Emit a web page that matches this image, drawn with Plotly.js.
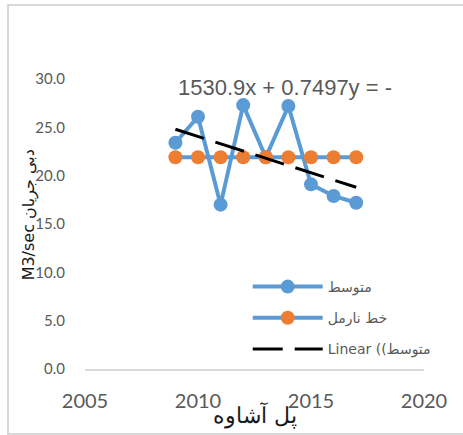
<!DOCTYPE html>
<html>
<head>
<meta charset="utf-8">
<script src="https://cdn.plot.ly/plotly-3.0.1.min.js"></script>
<style>
  html, body { margin: 0; padding: 0; overflow: hidden; background: #ffffff; }
  #frame { position: absolute; left: 7px; top: 4px; width: 470px; height: 427px; border: 2px solid #d9d9d9; pointer-events: none; }
  #chart { position: absolute; left: 0; top: 0; width: 463px; height: 435px; }
</style>
</head>
<body>
<div id="frame"></div>
<div id="chart"></div>
<script>
// ---- data ----
const years = [2009, 2010, 2011, 2012, 2013, 2014, 2015, 2016, 2017];
const meanFlow = [23.4, 26.1, 17.0, 27.3, 21.9, 27.2, 19.1, 17.9, 17.2];
const normalLine = [21.9, 21.9, 21.9, 21.9, 21.9, 21.9, 21.9, 21.9, 21.9];
const trendYears = [2009, 2017];
const trendValues = [24.8, 18.8];
const seriesNames = ['متوسط', 'خط نارمل', 'Linear ((متوسط'];
const equationText = '1530.9x + 0.7497y = -';
const xTitle = 'پل آشاوه';
const yTitle = 'M3/sec دبی جریان';
const xTicks = [2005, 2010, 2015, 2020];
const yTicks = [0, 5, 10, 15, 20, 25, 30];

const blue = '#5B9BD5', orange = '#ED7D31';
const gray = '#595959';

const traces = [
  { x: years, y: meanFlow, name: seriesNames[0], type: 'scatter', mode: 'lines+markers',
    line: { color: blue, width: 4 }, marker: { color: blue, size: 14 }, legendgroup: 'a' },
  { x: years, y: normalLine, name: seriesNames[1], type: 'scatter', mode: 'lines+markers',
    line: { color: blue, width: 4 }, marker: { color: orange, size: 14 }, legendgroup: 'b' },
  { x: trendYears, y: trendValues, name: seriesNames[2], type: 'scatter', mode: 'lines',
    line: { color: '#000000', width: 3, dash: '30px,12px' }, legendgroup: 'c' }
];

const layout = {
  width: 463, height: 435,
  margin: { l: 85, r: 39, t: 79, b: 66 },
  paper_bgcolor: 'rgba(0,0,0,0)', plot_bgcolor: 'rgba(0,0,0,0)',
  font: { family: 'Lato, "DejaVu Sans", sans-serif', color: gray },
  title: { text: equationText, font: { size: 22, color: gray, family: '"Liberation Sans", Arial, sans-serif' },
           xref: 'paper', x: 0.59, xanchor: 'center', yref: 'container', y: 0.8, yanchor: 'middle' },
  showlegend: true,
  legend: { x: 0.48, xanchor: 'left', y: 0.338, yanchor: 'top', bgcolor: 'rgba(0,0,0,0)',
            font: { size: 14, color: gray, family: '"DejaVu Sans", sans-serif' },
            traceorder: 'grouped', tracegroupgap: 10, itemwidth: 70 },
  xaxis: { range: [2005, 2020], tickvals: xTicks, ticktext: xTicks.map(String),
           showgrid: false, zeroline: false, showline: true, linecolor: '#d9d9d9', linewidth: 2,
           ticks: 'outside', ticklen: 13, tickcolor: 'rgba(0,0,0,0)',
           tickfont: { size: 20, color: gray } },
  yaxis: { range: [0, 30], tickvals: yTicks, ticktext: yTicks.map(v => v.toFixed(1)),
           showgrid: false, zeroline: false, showline: false,
           ticks: 'outside', ticklen: 16, tickcolor: 'rgba(0,0,0,0)',
           tickfont: { size: 15, color: gray } },
  annotations: [
    { text: xTitle, xref: 'paper', yref: 'paper', x: 0.5, y: -0.16, xanchor: 'center', yanchor: 'middle',
      showarrow: false, font: { size: 22, color: '#1a1a1a', family: '"DejaVu Serif", "Liberation Serif", serif' } },
    { text: yTitle, xref: 'paper', yref: 'paper', x: -0.165, y: 0.53, xanchor: 'center', yanchor: 'middle',
      textangle: -90, showarrow: false, font: { size: 16, color: '#1a1a1a', family: '"DejaVu Sans", sans-serif' } }
  ]
};

Plotly.newPlot('chart', traces, layout, { displayModeBar: false, staticPlot: true });
</script>
</body>
</html>
